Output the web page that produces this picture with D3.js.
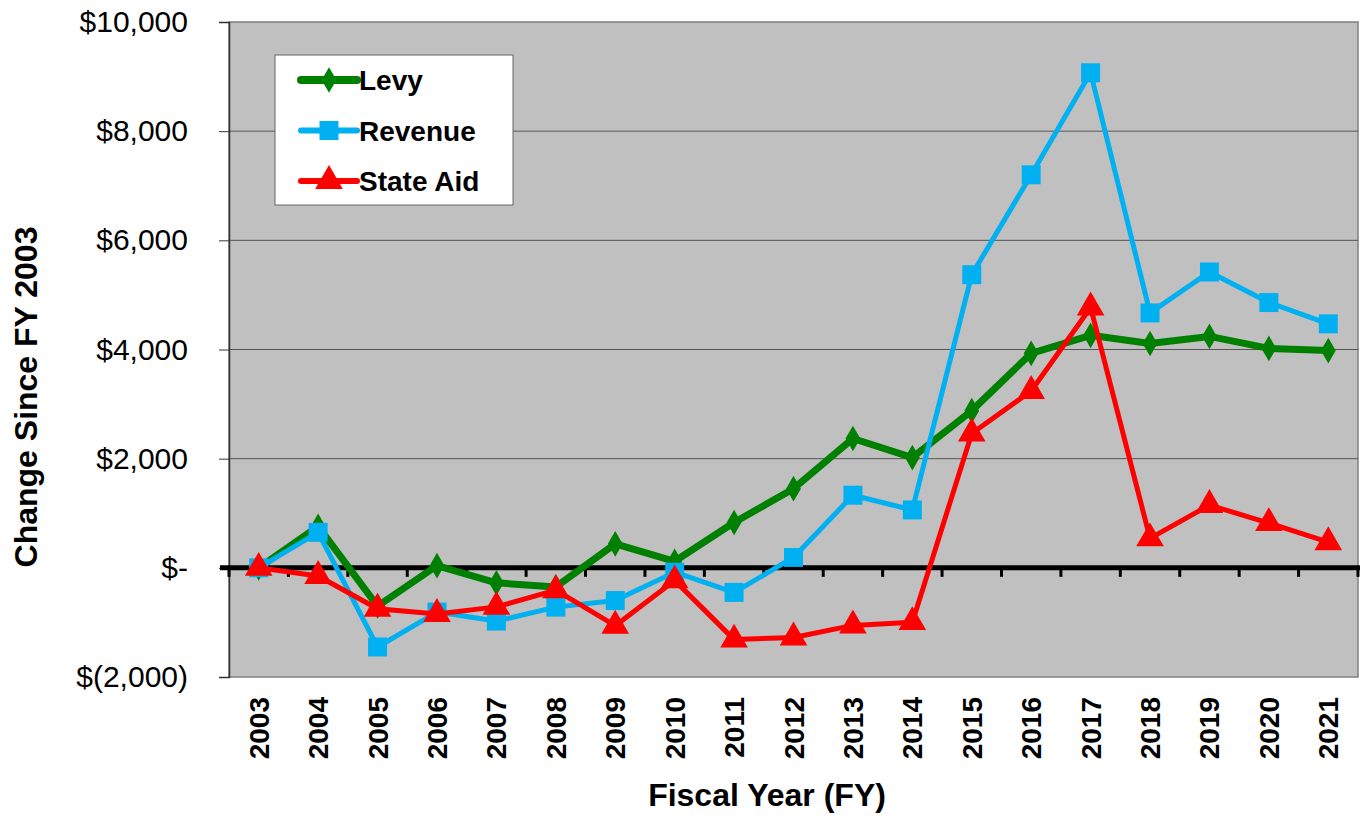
<!DOCTYPE html>
<html>
<head>
<meta charset="utf-8">
<script src="https://cdn.jsdelivr.net/npm/d3@7/dist/d3.min.js"></script>
<style>
  body { margin: 0; background: #fff; }
  text { font-family: "Liberation Sans", Arial, sans-serif; }
</style>
</head>
<body>
<div id="chart"></div>
<script>
const years = ['2003','2004','2005','2006','2007','2008','2009','2010','2011','2012',
  '2013','2014','2015','2016','2017','2018','2019','2020','2021'];
const levy = [0, 760, -700, 40, -275, -350, 440, 120, 830, 1450, 2370, 2020, 2880, 3930, 4260, 4110, 4240, 4020, 3980];
const revenue = [0, 650, -1450, -810, -975, -720, -600, -80, -450, 190, 1330, 1060, 5370, 7200, 9070, 4670, 5420, 4860, 4470];
const stateAid = [0, -150, -750, -845, -715, -410, -1060, -230, -1315, -1275, -1055, -995, 2460, 3240, 4770, 540, 1150, 820, 470];
const yTicks = [-2000, 0, 2000, 4000, 6000, 8000, 10000];

const width = 1363;
const height = 817;
const margin = { top: 22, right: 5, bottom: 140, left: 229 };

const svg = d3.select('#chart')
    .append('svg')
    .attr('width', width)
    .attr('height', height);

const xScale = d3.scaleBand()
    .domain(years)
    .range([margin.left, width - margin.right]);

const yScale = d3.scaleLinear()
    .domain([-2000, 10000])
    .range([height - margin.bottom, margin.top]);

const fmt = v => v === 0 ? '$-' : (v < 0 ? '$(' + d3.format(',')(-v) + ')' : '$' + d3.format(',')(v));

// plot background
svg.append('rect')
    .attr('x', margin.left)
    .attr('y', margin.top)
    .attr('width', width - margin.right - margin.left)
    .attr('height', yScale(-2000) - margin.top)
    .attr('fill', '#c0c0c0')
    .attr('stroke', '#808080')
    .attr('stroke-width', 1.5);

// gridlines
svg.append('g')
    .selectAll('line')
    .data(yTicks.filter(d => d > 0 && d < 10000))
    .join('line')
    .attr('x1', margin.left)
    .attr('x2', width - margin.right)
    .attr('y1', d => yScale(d))
    .attr('y2', d => yScale(d))
    .attr('stroke', '#555')
    .attr('stroke-width', 1);

// y axis
const yAxis = svg.append('g')
    .attr('transform', `translate(${margin.left},0)`)
    .call(d3.axisLeft(yScale).tickValues(yTicks).tickFormat(fmt).tickSize(10).tickPadding(31));
yAxis.select('.domain').attr('stroke', '#333').attr('stroke-width', 1.5);
yAxis.selectAll('.tick line').attr('stroke', '#333');
yAxis.selectAll('.tick text')
    .attr('font-size', 30)
    .attr('fill', '#000')
    .style('font-family', '"Liberation Sans", Arial, sans-serif');

// zero line with category tick marks
const zeroY = yScale(0);
svg.append('g')
    .selectAll('line')
    .data(years.concat(['end']))
    .join('line')
    .attr('x1', (d, i) => margin.left + i * xScale.step())
    .attr('x2', (d, i) => margin.left + i * xScale.step())
    .attr('y1', zeroY)
    .attr('y2', zeroY + 9)
    .attr('stroke', '#000')
    .attr('stroke-width', 3);
svg.append('line')
    .attr('x1', margin.left - 9)
    .attr('x2', width - margin.right + 2)
    .attr('y1', zeroY)
    .attr('y2', zeroY)
    .attr('stroke', '#000')
    .attr('stroke-width', 5);

// x labels
svg.append('g')
    .selectAll('text')
    .data(years)
    .join('text')
    .attr('transform', d => `translate(${xScale(d) + xScale.bandwidth() / 2 + 10},${yScale(-2000) + 20}) rotate(-90)`)
    .attr('text-anchor', 'end')
    .attr('font-size', 28)
    .attr('font-weight', 'bold')
    .text(d => d);

// axis titles
svg.append('text')
    .attr('x', 767)
    .attr('y', 806)
    .attr('text-anchor', 'middle')
    .attr('font-size', 32)
    .attr('font-weight', 'bold')
    .text('Fiscal Year (FY)');

svg.append('text')
    .attr('transform', `translate(37,397) rotate(-90)`)
    .attr('text-anchor', 'middle')
    .attr('font-size', 32)
    .attr('font-weight', 'bold')
    .text('Change Since FY 2003');

const cx = d => xScale(d) + xScale.bandwidth() / 2;

const series = [
    { name: 'Levy', values: levy, color: '#008000', width: 7, symbol: d3.symbolDiamond, size: 190 },
    { name: 'Revenue', values: revenue, color: '#00b0f0', width: 5, symbol: d3.symbolSquare, size: 360 },
    { name: 'State Aid', values: stateAid, color: '#ff0000', width: 5, symbol: d3.symbolTriangle, size: 330 }
];

const line = d3.line()
    .x(d => cx(d.year))
    .y(d => yScale(d.value));

series.forEach(s => {
    const pts = years.map((y, i) => ({ year: y, value: s.values[i] }));
    svg.append('path')
        .datum(pts)
        .attr('fill', 'none')
        .attr('stroke', s.color)
        .attr('stroke-width', s.width)
        .attr('stroke-linejoin', 'round')
        .attr('d', line);
    svg.append('g')
        .selectAll('path')
        .data(pts)
        .join('path')
        .attr('transform', d => `translate(${cx(d.year)},${yScale(d.value)})`)
        .attr('d', d3.symbol(s.symbol, s.size))
        .attr('fill', s.color);
});

// legend
const legend = svg.append('g').attr('transform', 'translate(275,55)');
legend.append('rect')
    .attr('width', 238)
    .attr('height', 150)
    .attr('fill', '#fff')
    .attr('stroke', '#666')
    .attr('stroke-width', 1);
series.forEach((s, i) => {
    const y = 25 + i * 50.5;
    legend.append('line')
        .attr('x1', 26)
        .attr('x2', 82)
        .attr('y1', y)
        .attr('y2', y)
        .attr('stroke', s.color)
        .attr('stroke-width', s.width + 1)
        .attr('stroke-linecap', 'round');
    legend.append('path')
        .attr('transform', `translate(54,${y})`)
        .attr('d', d3.symbol(s.symbol, s.size))
        .attr('fill', s.color);
    legend.append('text')
        .attr('x', 84)
        .attr('y', y + 10)
        .attr('font-size', 28)
        .attr('font-weight', 'bold')
        .text(s.name);
});
</script>
</body>
</html>
